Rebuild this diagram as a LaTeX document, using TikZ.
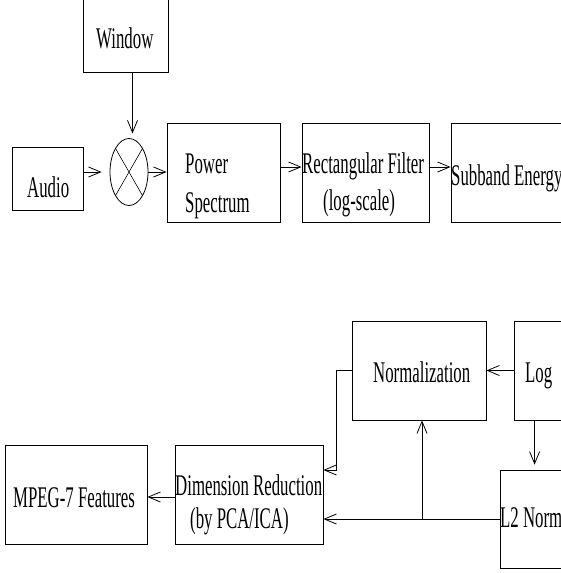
\documentclass[tikz,border=0pt]{standalone}
\usepackage{fontspec}
\setmainfont[FakeStretch=0.56]{Liberation Serif}
\usepackage{tikz}
\usetikzlibrary{arrows.meta,calc,positioning,shapes.geometric}

\begin{document}
\begin{tikzpicture}[x=1pt,y=-1pt,>={Straight Barb[length=12pt,width=10pt]},
    blk/.style={draw,line width=0.8pt,rectangle,inner sep=0pt},
    txt/.style={anchor=base west,inner sep=0pt,font=\fontsize{30}{36}\selectfont},
    arr/.style={->,line width=0.8pt}]
      \useasboundingbox (0,0) rectangle (561,573);
      \clip (0,0) rectangle (561,573);
      % top row
      \node[blk,minimum width=85pt,minimum height=82pt] (win) at (125.5,31) {};
      \node[blk,minimum width=71pt,minimum height=63pt] (audio) at (47.5,178.5) {};
      \node[draw,line width=0.8pt,ellipse,minimum width=38pt,minimum height=67pt,inner sep=0pt] (mix) at (129,172) {};
      \draw[line width=0.6pt] (mix.north west)--(mix.south east) (mix.north east)--(mix.south west);
      \node[blk,minimum width=113pt,minimum height=99pt] (power) at (223.5,172.5) {};
      \node[blk,minimum width=127pt,minimum height=99pt] (rect) at (365.5,172.5) {};
      \node[blk,minimum width=160pt,minimum height=99pt] (sub) at (531,172.5) {};
      \node[txt] (winTxt) at (96,48) {Window};
      \node[txt] (audioTxt) at (27,197) {Audio};
      \node[txt] (powerTxt) at (185,173) {Power};
      \node[txt] (specTxt) at (185,212) {Spectrum};
      \node[txt] (rectTxt) at (302,173) {Rectangular Filter};
      \node[txt] (logscTxt) at (323,210) {(log-scale)};
      \node[txt] (subTxt) at (451,185) {Subband Energy};
      \draw[arr] ([xshift=7pt]win.south)--([xshift=7pt,yshift=-61pt]win.south);
      \draw[arr] (audio.east |- mix)--([xshift=-8pt]mix.west);
      \draw[arr] (mix.east)--(mix.east -| power.west);
      \draw[arr] ([yshift=5.5pt]power.east)--([yshift=5.5pt]rect.west);
      \draw[arr] ([yshift=5.5pt]rect.east)--([yshift=5.5pt]sub.west);
      % bottom row
      \node[blk,minimum width=134pt,minimum height=99pt] (norm) at (419,370.5) {};
      \node[blk,minimum width=100pt,minimum height=99pt] (log) at (564,370.5) {};
      \node[blk,minimum width=120pt,minimum height=98pt] (l2) at (560,519) {};
      \node[blk,minimum width=148pt,minimum height=99pt] (dim) at (249,494.5) {};
      \node[blk,minimum width=142pt,minimum height=99pt] (mpeg) at (76,494.5) {};
      \node[txt] (normTxt) at (373,382) {Normalization};
      \node[txt] (logTxt) at (525,382) {Log};
      \node[txt] (l2Txt) at (500,527) {L2 Norm};
      \node[txt] (dimTxt) at (175,495) {Dimension Reduction};
      \node[txt] (pcaTxt) at (190,528) {(by PCA/ICA)};
      \node[txt] (mpegTxt) at (13,507) {MPEG-7 Features};
      \draw[arr] (log.west)--(norm.east);
      \draw[arr] ([xshift=21pt]log.south west)--([xshift=21pt,yshift=5pt]log.south west |- l2.north);
      \draw[arr] (l2.west)--(l2.west -| dim.east);
      \draw[arr] ($(norm.south |- l2.west)+(3,0)$)--([xshift=3pt]norm.south);
      \draw[arr] (norm.west)--++(-15,0) |- ([yshift=24.5pt]dim.east);
      \draw[arr] ([yshift=-2.5pt]dim.west)--([yshift=-2.5pt]mpeg.east);
    \end{tikzpicture}
\end{document}
